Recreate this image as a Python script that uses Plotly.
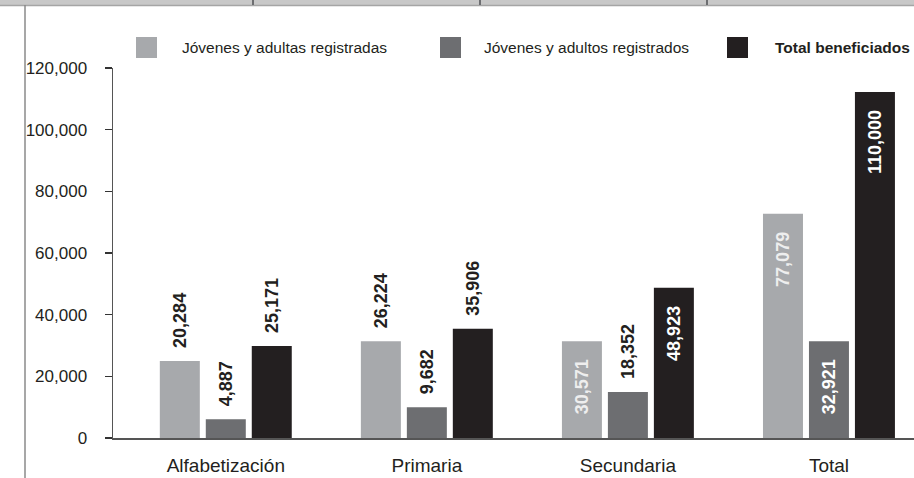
import plotly.graph_objects as go

# Categories and series
categories = ["Alfabetización", "Primaria", "Secundaria", "Total"]
series_names = ["Jóvenes y adultas registradas", "Jóvenes y adultos registrados", "Total beneficiados"]

# bar heights as drawn in the source picture
mujeres_bar = [25000, 31400, 31400, 72700]
hombres_bar = [6100, 10000, 14900, 31400]
total_bar = [29800, 35400, 48700, 112200]

# values printed on the bars
mujeres_label = [20284, 26224, 30571, 77079]
hombres_label = [4887, 9682, 18352, 32921]
total_label = [25171, 35906, 48923, 110000]

y_ticks = [0, 20000, 40000, 60000, 80000, 100000, 120000]

colors = ["#a7a9ac", "#6d6e71", "#231f20"]
inside_colors = ["#eeeeee", "#ffffff", "#ffffff"]
# which labels sit inside the bar
inside_flags = [
    [False, False, True, True],
    [False, False, False, True],
    [False, False, True, True],
]

FONT = "Liberation Sans, Arial, sans-serif"
W, H = 914, 478
L, R, T, B = 113, 0, 68, 40
NB = "\u00a0"


def px(x):
    return (x - L) / (W - L - R)


def py(y):
    return (H - B - y) / (H - T - B)


fig = go.Figure()
bars = [mujeres_bar, hombres_bar, total_bar]
labels = [mujeres_label, hombres_label, total_label]
for i, name in enumerate(series_names):
    txt, pos = [], []
    for v, inside in zip(labels[i], inside_flags[i]):
        s = f"{v:,}"
        if inside:
            txt.append(s + NB * 3)
            pos.append("inside")
        else:
            txt.append(NB * 2 + s)
            pos.append("outside")
    fig.add_trace(go.Bar(
        x=categories, y=bars[i], name=name,
        marker=dict(color=colors[i], line=dict(width=0)),
        text=txt, textposition=pos, textangle=-90,
        insidetextanchor="end", constraintext="none",
        insidetextfont=dict(family=FONT, size=18, color=inside_colors[i], weight="bold"),
        outsidetextfont=dict(family=FONT, size=18, color="#231f20", weight="bold"),
        cliponaxis=False, hoverinfo="skip",
    ))

shapes = []
annotations = []
# top band of the page
shapes.append(dict(type="rect", xref="paper", yref="paper", x0=px(0), x1=px(W), y0=py(5), y1=py(0),
                   fillcolor="#c8c8c8", line=dict(width=0), layer="above"))
shapes.append(dict(type="line", xref="paper", yref="paper", x0=px(0), x1=px(W), y0=py(5.5), y1=py(5.5),
                   line=dict(color="#a5a5a5", width=1.5)))
for xd in [253, 480, 707]:
    shapes.append(dict(type="line", xref="paper", yref="paper", x0=px(xd), x1=px(xd), y0=py(0), y1=py(5),
                       line=dict(color="#6d6e71", width=2)))
shapes.append(dict(type="line", xref="paper", yref="paper", x0=px(25), x1=px(25), y0=py(5), y1=py(H),
                   line=dict(color="#8a8a8a", width=1.5)))

# legend drawn by hand (big square swatches)
leg_sq = [136, 440, 727]
leg_tx = [180, 482, 773]
for i, name in enumerate(series_names):
    shapes.append(dict(type="rect", xref="paper", yref="paper",
                       x0=px(leg_sq[i]), x1=px(leg_sq[i] + 21), y0=py(58), y1=py(37),
                       fillcolor=colors[i], line=dict(width=0)))
    annotations.append(dict(xref="paper", yref="paper", x=px(leg_tx[i]), y=py(47.5),
                            xanchor="left", yanchor="middle", showarrow=False, text=name,
                            font=dict(family=FONT, size=15.5, color="#231f20",
                                      weight="bold" if i == 2 else "normal")))

fig.update_layout(
    width=W, height=H,
    margin=dict(l=L, r=R, t=T, b=B),
    paper_bgcolor="white", plot_bgcolor="white",
    barmode="group", bargap=0.314, bargroupgap=0.13,
    showlegend=False,
    shapes=shapes, annotations=annotations,
    xaxis=dict(range=[-0.561, 3.423], showgrid=False, showline=True, linecolor="#555555", linewidth=1.5,
               ticks="", ticklabelstandoff=10,
               tickfont=dict(family=FONT, size=19, color="#231f20"), fixedrange=True),
    yaxis=dict(range=[0, 120000], tickvals=y_ticks, tickformat=",", showgrid=False, zeroline=False,
               showline=True, linecolor="#555555", linewidth=1.5,
               ticks="outside", ticklen=7, tickcolor="#333333", tickwidth=1.2, ticklabelstandoff=14,
               tickfont=dict(family=FONT, size=17, color="#231f20"), fixedrange=True),
)

fig.write_html("out.html", config={"displayModeBar": False, "staticPlot": True},
               post_script="document.body.style.margin='0';")
